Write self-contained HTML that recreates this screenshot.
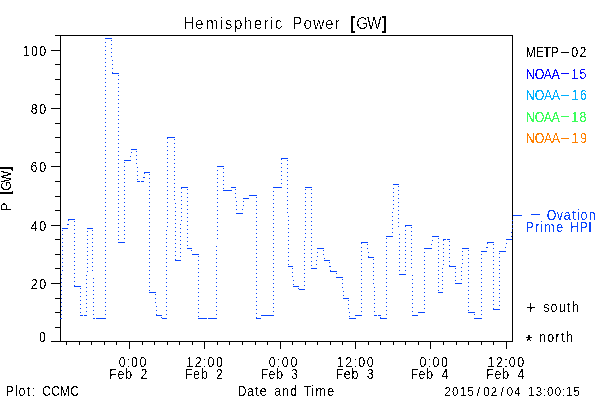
<!DOCTYPE html>
<html lang="en">
<head>
<meta charset="utf-8">
<title>Hemispheric Power [GW]</title>
<style>
html,body{margin:0;padding:0;background:#fff;}
body{width:600px;height:400px;overflow:hidden;}
svg{display:block;}
svg text{font-family:"Liberation Sans",sans-serif;}
</style>
</head>
<body>
<svg width="600" height="400" viewBox="0 0 600 400">
<rect x="0" y="0" width="600" height="400" fill="#fff"/>
<g shape-rendering="crispEdges">
<path d="M60 35.5H513M60 341.5H513M60.5 35V342M512.5 35V342M51 341.5H60M55 327.5H60M55 312.5H60M55 298.5H60M51 283.5H60M55 268.5H60M55 254.5H60M55 239.5H60M51 225.5H60M55 210.5H60M55 196.5H60M55 181.5H60M51 166.5H60M55 152.5H60M55 137.5H60M55 123.5H60M51 108.5H60M55 94.5H60M55 79.5H60M55 64.5H60M51 50.5H60M55 35.5H60M66.5 341V345M79.5 341V345M91.5 341V345M104.5 341V345M116.5 341V345M129.5 341V349M142.5 341V345M154.5 341V345M167.5 341V345M179.5 341V345M192.5 341V345M204.5 341V349M217.5 341V345M229.5 341V345M242.5 341V345M255.5 341V345M267.5 341V345M280.5 341V349M292.5 341V345M305.5 341V345M317.5 341V345M330.5 341V345M342.5 341V345M355.5 341V349M368.5 341V345M380.5 341V345M393.5 341V345M405.5 341V345M418.5 341V345M430.5 341V349M443.5 341V345M456.5 341V345M468.5 341V345M481.5 341V345M493.5 341V345M506.5 341V349" stroke="#000" stroke-width="1" fill="none"/>
<path d="M60 318.5H62M62 228.5H68M68 219.5H75M74 286.5H81M80 315.5H83M84 315.5H87M87 228.5H93M93 318.5H95M96 318.5H106M105 38.5H112M112 73.5H119M118 242.5H125M124 160.5H131M131 149.5H137M137 181.5H140M141 181.5H144M144 172.5H150M149 292.5H156M156 315.5H162M162 318.5H167M167 137.5H175M175 260.5H181M181 187.5H188M187 248.5H192M192 254.5H199M198 318.5H207M208 318.5H217M217 166.5H224M223 190.5H232M231 187.5H236M236 213.5H243M243 198.5H249M249 195.5H257M256 318.5H261M261 315.5H274M273 187.5H282M281 158.5H288M288 266.5H293M293 286.5H299M299 289.5H305M305 187.5H312M311 268.5H317M317 248.5H324M324 260.5H330M330 271.5H337M336 277.5H343M343 298.5H349M349 318.5H356M355 315.5H362M361 242.5H368M368 257.5H374M374 315.5H377M378 315.5H381M380 318.5H387M386 236.5H393M393 184.5H399M399 274.5H406M405 225.5H412M412 315.5H418M418 312.5H425M424 248.5H432M432 236.5H439M438 292.5H443M443 239.5H446M447 239.5H450M449 266.5H456M455 283.5H462M462 248.5H469M468 312.5H475M474 318.5H482M481 251.5H487M487 242.5H494M493 309.5H500M499 251.5H506M506 239.5H512" stroke="#0a46ff" stroke-width="1" fill="none"/>
<path d="M61.5 319L62.5 229M67.5 229L68.5 220M74.5 221L74.5 286M80.5 288L80.5 315M86.5 316L87.5 229M92.5 230L93.5 318M105.5 319L105.5 39M111.5 40L112.5 73M118.5 75L118.5 242M124.5 243L124.5 161M130.5 161L131.5 150M136.5 151L137.5 181M143.5 182L144.5 173M149.5 174L149.5 292M155.5 294L156.5 315M161.5 317L162.5 318M166.5 319L167.5 138M174.5 139L175.5 260M180.5 261L181.5 188M187.5 189L187.5 248M191.5 250L192.5 254M198.5 256L198.5 318M216.5 319L217.5 167M223.5 168L223.5 190M231.5 191L231.5 188M235.5 189L236.5 213M242.5 214L243.5 199M248.5 199L249.5 196M256.5 197L256.5 318M260.5 319L261.5 316M273.5 316L273.5 188M281.5 188L281.5 159M287.5 160L288.5 266M292.5 268L293.5 286M298.5 288L299.5 289M304.5 290L305.5 188M311.5 189L311.5 268M316.5 269L317.5 249M323.5 250L324.5 260M329.5 262L330.5 271M336.5 273L336.5 277M342.5 279L343.5 298M348.5 300L349.5 318M355.5 319L355.5 316M361.5 316L361.5 243M367.5 244L368.5 257M373.5 259L374.5 315M380.5 317L380.5 318M386.5 319L386.5 237M392.5 237L393.5 185M398.5 186L399.5 274M405.5 275L405.5 226M411.5 227L412.5 315M417.5 316L418.5 313M424.5 313L424.5 249M431.5 249L432.5 237M438.5 238L438.5 292M442.5 293L443.5 240M449.5 241L449.5 266M455.5 268L455.5 283M461.5 284L462.5 249M468.5 250L468.5 312M474.5 314L474.5 318M481.5 319L481.5 252M486.5 252L487.5 243M493.5 244L493.5 309M499.5 310L499.5 252M505.5 252L506.5 240M511.5 237V229M512.5 229V217" stroke="#0a46ff" stroke-width="1" stroke-dasharray="1 3" fill="none"/>
<path d="M513 215.5H522" stroke="#0a46ff" stroke-width="1" fill="none"/>
</g>
<defs><filter id="c16" x="0" y="0" width="600" height="400" filterUnits="userSpaceOnUse" color-interpolation-filters="sRGB"><feComponentTransfer><feFuncA type="discrete" tableValues="0 0 0 0 0 0 0 0 0 0 0 0 1 1 1 1 1 1 1 1"/></feComponentTransfer></filter><filter id="c13" x="0" y="0" width="600" height="400" filterUnits="userSpaceOnUse" color-interpolation-filters="sRGB"><feComponentTransfer><feFuncA type="discrete" tableValues="0 0 0 0 0 0 0 0 0 0 1 1 1 1 1 1 1 1 1 1"/></feComponentTransfer></filter></defs>
<g filter="url(#c16)">
<text transform="scale(0.9 1)" y="29" font-size="16.9" fill="#000"><tspan x="203.67 216.80 228.54 244.85 249.83 259.92 271.06 281.91 292.89 299.98 305.26 317.11 324.67 337.34 347.96 361.10 372.07 381.04">Hemispheric Power </tspan><tspan x="389.54" dy="-0.40" font-size="19.10" stroke="#000" stroke-width="0.7">[</tspan><tspan x="395.88 407.68" dy="0.40">GW</tspan><tspan x="424.14" dy="-0.40" font-size="19.10" stroke="#000" stroke-width="0.7">]</tspan></text>
</g>
<g filter="url(#c13)">
<text transform="scale(0.9 1)" x="25.23 34.47 43.71" y="56" font-size="13.8" fill="#000">100</text>
<text transform="scale(0.9 1)" x="34.23 43.65" y="114" font-size="13.8" fill="#000">80</text>
<text transform="scale(0.9 1)" x="33.85 43.55" y="172" font-size="13.8" fill="#000">60</text>
<text transform="scale(0.9 1)" x="34.23 43.65" y="231" font-size="13.8" fill="#000">40</text>
<text transform="scale(0.9 1)" x="34.23 43.65" y="289" font-size="13.8" fill="#000">20</text>
<text transform="scale(0.9 1)" x="43.44" y="342" font-size="13.8" fill="#000">0</text>
<text transform="scale(0.9 1)" x="131.88 140.70 145.69 154.89" y="366.8" font-size="13.8" fill="#000">0:00</text>
<text transform="scale(0.9 1)" x="206.94 216.41 225.43 230.61 240.07" y="366.8" font-size="13.8" fill="#000">12:00</text>
<text transform="scale(0.9 1)" x="298.70 307.85 313.15 322.79" y="366.8" font-size="13.8" fill="#000">0:00</text>
<text transform="scale(0.9 1)" x="374.18 383.71 392.78 398.01 407.55" y="366.8" font-size="13.8" fill="#000">12:00</text>
<text transform="scale(0.9 1)" x="466.17 475.25 480.49 490.04" y="366.8" font-size="13.8" fill="#000">0:00</text>
<text transform="scale(0.9 1)" x="541.67 551.13 560.15 565.33 574.79" y="366.8" font-size="13.8" fill="#000">12:00</text>
<text transform="scale(0.9 1)" x="121.50 130.45 139.26 149.51 156.16" y="379" font-size="13.8" fill="#000">Feb 2</text>
<text transform="scale(0.9 1)" x="205.65 214.54 223.29 233.48 240.07" y="379" font-size="13.8" fill="#000">Feb 2</text>
<text transform="scale(0.9 1)" x="289.51 298.28 306.90 316.98 323.45" y="379" font-size="13.8" fill="#000">Feb 3</text>
<text transform="scale(0.9 1)" x="372.89 381.84 390.65 400.90 407.55" y="379" font-size="13.8" fill="#000">Feb 3</text>
<text transform="scale(0.9 1)" x="456.19 465.04 473.75 483.90 490.45" y="379" font-size="13.8" fill="#000">Feb 4</text>
<text transform="scale(0.9 1)" x="540.39 549.36 558.19 568.46 575.12" y="379" font-size="13.8" fill="#000">Feb 4</text>
<text transform="scale(0.9 1)" x="6.52 16.44 20.51 29.75 34.94 41.08 46.75 56.67 66.53 77.92" y="396" font-size="13.8" fill="#000">Plot: CCMC</text>
<text transform="scale(0.9 1)" x="263.88 274.35 283.50 288.57 298.42 304.66 313.52 322.38 332.46 337.62 345.90 350.54 363.64" y="396" font-size="13.8" fill="#000">Date and Time</text>
<text transform="scale(0.9 1)" x="493.84 502.28 510.73 519.17 529.82 536.90 545.34 555.99 563.07 571.52 580.90 586.72 595.16 603.27 607.82 616.27 624.38 628.93 637.37" y="396.3" font-size="12.8" fill="#000">2015/02/04 13:00:15</text>
<text transform="scale(0.9 1)" y="57.4" font-size="13.8" fill="#000"><tspan x="583.89 595.13 603.73 612.02">METP</tspan><tspan x="621.15" dy="-0.50" textLength="12.99" lengthAdjust="spacingAndGlyphs">-</tspan><tspan x="634.60 643.99" dy="0.50">02</tspan></text>
<text transform="scale(0.9 1)" y="78.8" font-size="13.8" fill="#0808ff"><tspan x="584.19 594.13 604.28 612.72">NOAA</tspan><tspan x="621.15" dy="-0.50" textLength="12.99" lengthAdjust="spacingAndGlyphs">-</tspan><tspan x="634.60 643.99" dy="0.50">15</tspan></text>
<text transform="scale(0.9 1)" y="100.2" font-size="13.8" fill="#00b0ff"><tspan x="584.21 594.23 604.45 612.95">NOAA</tspan><tspan x="621.42" dy="-0.50" textLength="13.07" lengthAdjust="spacingAndGlyphs">-</tspan><tspan x="634.99 644.44" dy="0.50">16</tspan></text>
<text transform="scale(0.9 1)" y="122" font-size="13.8" fill="#3cff5a"><tspan x="584.19 594.13 604.28 612.72">NOAA</tspan><tspan x="621.15" dy="-0.50" textLength="12.99" lengthAdjust="spacingAndGlyphs">-</tspan><tspan x="634.60 643.99" dy="0.50">18</tspan></text>
<text transform="scale(0.9 1)" y="143.2" font-size="13.8" fill="#ff8000"><tspan x="584.21 594.23 604.45 612.95">NOAA</tspan><tspan x="621.42" dy="-0.50" textLength="13.07" lengthAdjust="spacingAndGlyphs">-</tspan><tspan x="634.99 644.44" dy="0.50">19</tspan></text>
<text x="529.5" y="219.2" font-size="13.8" fill="#0a46ff" textLength="12" lengthAdjust="spacingAndGlyphs">-</text>
<text transform="scale(0.9 1)" x="607.55 618.52 626.47 635.77 640.92 645.05 654.10" y="220.2" font-size="13.8" fill="#0a46ff">Ovation</text>
<text transform="scale(0.9 1)" x="584.22 594.49 600.17 604.85 618.00 627.88 633.71 644.16 653.64" y="232" font-size="13.8" fill="#0a46ff">Prime HPI</text>
<text x="525.7" y="314" font-size="17.5">+</text>
<text transform="scale(0.9 1)" x="603.61 611.78 620.81 630.10 635.55" y="312" font-size="13.8" fill="#000">south</text>
<text x="525.2" y="347.8" font-size="19">*</text>
<text transform="scale(0.9 1)" x="599.10 608.08 617.19 623.48 628.89" y="342" font-size="13.8" fill="#000">north</text>
<text transform="translate(10.8 210) rotate(-90) scale(0.9 1)" y="0" font-size="13.8" fill="#000"><tspan x="-1.07 10.08">P </tspan><tspan x="16.69" dy="-0.40" font-size="15.59" stroke="#000" stroke-width="0.7">[</tspan><tspan x="21.50 30.64" dy="0.40">GW</tspan><tspan x="43.68" dy="-0.40" font-size="15.59" stroke="#000" stroke-width="0.7">]</tspan></text>
</g>
</svg>
</body>
</html>
